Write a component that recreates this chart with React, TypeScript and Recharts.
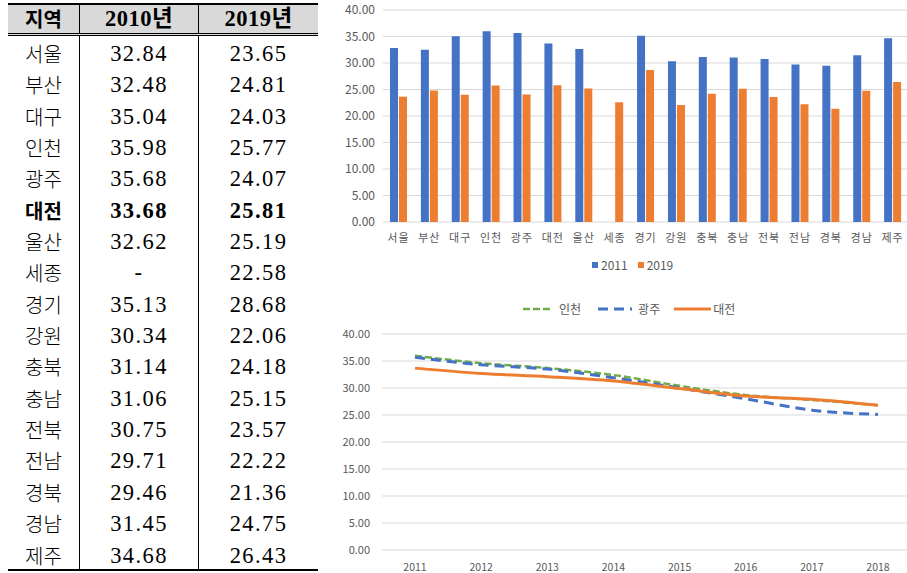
import React from 'react';
import {
  BarChart, Bar, LineChart, Line, XAxis, YAxis, CartesianGrid, Legend
} from 'recharts';

const regions = ['서울', '부산', '대구', '인천', '광주', '대전', '울산', '세종', '경기', '강원', '충북', '충남', '전북', '전남', '경북', '경남', '제주'];
const rate2010: (number | null)[] = [32.84, 32.48, 35.04, 35.98, 35.68, 33.68, 32.62, null, 35.13, 30.34, 31.14, 31.06, 30.75, 29.71, 29.46, 31.45, 34.68];
const rate2019 = [23.65, 24.81, 24.03, 25.77, 24.07, 25.81, 25.19, 22.58, 28.68, 22.06, 24.18, 25.15, 23.57, 22.22, 21.36, 24.75, 26.43];

const years = ['2011', '2012', '2013', '2014', '2015', '2016', '2017', '2018'];
const incheon = [35.98, 34.6, 33.7, 32.4, 30.4, 28.7, 27.8, 26.8];
const gwangju = [35.68, 34.3, 33.5, 31.9, 30.0, 28.0, 25.9, 25.1];
const daejeon = [33.68, 32.7, 32.1, 31.3, 29.9, 28.5, 27.9, 26.8];

const lineKeys = ['incheon', 'gwangju', 'daejeon'];
const lineNames = ['인천', '광주', '대전'];
const barKeys = ['y2011', 'y2019'];
const barNames = ['2011', '2019'];

const yTicks = [0, 5, 10, 15, 20, 25, 30, 35, 40];

const barData = regions.map((r, i) => ({ region: r, y2011: rate2010[i], y2019: rate2019[i] }));
const lineData = years.map((y, i) => ({ year: y, incheon: incheon[i], gwangju: gwangju[i], daejeon: daejeon[i] }));

const GRAY = '#595959';
const SANS = '"Noto Sans CJK KR", "Noto Sans", sans-serif';
const SERIF = '"Liberation Serif", "Noto Sans CJK KR", serif';

const BLUE = '#4472c4';
const ORANGE = '#ed7d31';
const GREEN = '#70ad47';

// legend geometry per item: line width, gap before text, space after text
const lineStyles: Record<string, { color: string; dash?: string; width: number; legendW: number; gap: number; after: number }> = {
  incheon: { color: GREEN, dash: '7 3', width: 2.5, legendW: 30, gap: 6, after: 17 },
  gwangju: { color: BLUE, dash: '10 6', width: 3, legendW: 34, gap: 6, after: 14 },
  daejeon: { color: ORANGE, width: 3, legendW: 37, gap: 2, after: 0 },
};
const barColors: Record<string, string> = { y2011: BLUE, y2019: ORANGE };

const DataTable = () => {
  const cell = (w: number, border: boolean): React.CSSProperties => ({
    width: w, textAlign: 'center', borderRight: border ? '1.5px solid #000' : 'none', boxSizing: 'border-box',
  });
  return (
    <div style={{ position: 'absolute', left: 8, top: 3, width: 310, fontFamily: SERIF, color: '#000' }}>
      <div style={{ borderTop: '2px solid #000', borderBottom: '3px double #000', background: '#d9d9d9', display: 'flex', height: 33, lineHeight: '28px', fontWeight: 'bold', fontSize: 22.5, letterSpacing: 0.5, boxSizing: 'border-box' }}>
        <div style={{ ...cell(72, true), fontFamily: SANS, fontSize: 20, letterSpacing: 0 }}>지역</div>
        <div style={cell(119, true)}>2010년</div>
        <div style={cell(119, false)}>2019년</div>
      </div>
      <div style={{ borderBottom: '2px solid #000' }}>
        {regions.map((r, i) => (
          <div key={r} style={{ display: 'flex', height: 31.35, lineHeight: '35px', fontSize: 22.5, letterSpacing: 1.4, fontWeight: r === '대전' ? 'bold' : 'normal' }}>
            <div style={{ ...cell(72, true), fontFamily: SANS, fontSize: 20, letterSpacing: 0, fontWeight: r === '대전' ? 'bold' : 300 }}>{r}</div>
            <div style={cell(119, true)}>{rate2010[i] === null ? '-' : rate2010[i]!.toFixed(2)}</div>
            <div style={cell(119, false)}>{rate2019[i].toFixed(2)}</div>
          </div>
        ))}
      </div>
    </div>
  );
};

const BarLegend = () => (
  <div style={{ display: 'flex', paddingLeft: 262, paddingTop: 4, fontFamily: SANS, fontSize: 12, color: GRAY, alignItems: 'center' }}>
    {barKeys.map((k, i) => (
      <div key={k} style={{ display: 'flex', alignItems: 'center', marginRight: 10 }}>
        <span style={{ width: 6, height: 6, background: barColors[k], marginRight: 3 }} />
        {barNames[i]}
      </div>
    ))}
  </div>
);

const LineLegend = () => (
  <div style={{ display: 'flex', paddingLeft: 193, fontFamily: SANS, fontSize: 12, color: GRAY, alignItems: 'center' }}>
    {lineKeys.map((k, i) => {
      const s = lineStyles[k];
      return (
        <div key={k} style={{ display: 'flex', alignItems: 'center', marginRight: s.after }}>
          <svg width={s.legendW} height={6} style={{ marginRight: s.gap }}>
            <line x1={0} y1={3} x2={s.legendW} y2={3} stroke={s.color} strokeWidth={s.width} strokeDasharray={s.dash} />
          </svg>
          {lineNames[i]}
        </div>
      );
    })}
  </div>
);

export default function App() {
  return (
    <div style={{ position: 'absolute', left: 0, top: 0, width: 907, height: 573, overflow: 'hidden', background: '#fff' }}>
      <DataTable />
      <div style={{ position: 'absolute', left: 330, top: 0 }}>
        <BarChart width={578} height={280} data={barData} margin={{ top: 10, right: 0, left: 0, bottom: 0 }} barGap={1} barSize={8}>
          <CartesianGrid vertical={false} stroke="#d9d9d9" />
          <XAxis dataKey="region" axisLine={false} tickLine={false} interval={0} height={30} tickMargin={6}
            tick={{ fontSize: 11, fill: GRAY, fontFamily: SANS, letterSpacing: 1 }} />
          <YAxis domain={[0, 40]} ticks={yTicks} tickFormatter={(v: number) => v.toFixed(2)} axisLine={false} tickLine={false} width={53}
            tick={{ fontSize: 12, fill: GRAY, fontFamily: SANS }} />
          <Legend verticalAlign="bottom" height={28} content={BarLegend} />
          {barKeys.map((k, i) => (
            <Bar key={k} dataKey={k} name={barNames[i]} fill={barColors[k]} isAnimationActive={false} />
          ))}
        </BarChart>
      </div>
      <div style={{ position: 'absolute', left: 330, top: 290 }}>
        <LineChart width={581} height={283} data={lineData} margin={{ top: 10, right: 0, left: 0, bottom: 0 }}>
          <CartesianGrid vertical={false} stroke="#d9d9d9" />
          <XAxis dataKey="year" axisLine={false} tickLine={false} height={23} tickMargin={8} padding={{ left: 33, right: 33 }}
            tick={{ fontSize: 10.5, fill: GRAY, fontFamily: SANS }} />
          <YAxis domain={[0, 40]} ticks={yTicks} tickFormatter={(v: number) => v.toFixed(2)} axisLine={false} tickLine={false} width={52} tickMargin={6}
            tick={{ fontSize: 11, fill: GRAY, fontFamily: SANS }} />
          <Legend verticalAlign="top" height={34} content={LineLegend} />
          {lineKeys.map((k, i) => {
            const s = lineStyles[k];
            return (
              <Line key={k} type="monotone" dataKey={k} name={lineNames[i]} stroke={s.color} strokeWidth={s.width}
                strokeDasharray={s.dash} dot={false} isAnimationActive={false} />
            );
          })}
        </LineChart>
      </div>
    </div>
  );
}
